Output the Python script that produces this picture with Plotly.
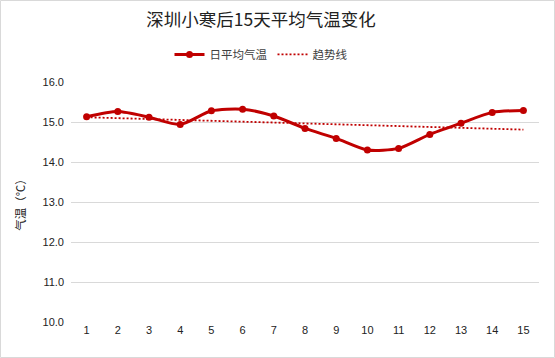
import numpy as np
import plotly.graph_objects as go

days = list(range(1, 16))
temps = [15.13, 15.26, 15.12, 14.94, 15.28, 15.32, 15.15, 14.84, 14.59, 14.30,
         14.34, 14.69, 14.97, 15.24, 15.29]
y_ticks = [10.0, 11.0, 12.0, 13.0, 14.0, 15.0, 16.0]
title_text = "深圳小寒后15天平均气温变化"
series_name = "日平均气温"
trend_name = "趋势线"
y_title = "气温（℃）"

coef = np.polyfit(days, temps, 1)
trend = list(np.polyval(coef, days))

RED = "#C00000"
CJK = "Noto Sans CJK SC"
CENTER_X = (261 - 71) / 468

fig = go.Figure()
fig.add_trace(go.Scatter(
    x=days, y=temps, name=series_name, mode="lines+markers",
    line=dict(color=RED, width=3, shape="spline", smoothing=0.7),
    marker=dict(color=RED, size=7),
))
fig.add_trace(go.Scatter(
    x=days, y=trend, name=trend_name, mode="lines",
    line=dict(color=RED, width=1.8, dash="2px,2px"),
))

fig.update_layout(
    width=555, height=358,
    margin=dict(l=71, r=16, t=82, b=36, autoexpand=False),
    paper_bgcolor="white", plot_bgcolor="white",
    title=dict(text=title_text, x=CENTER_X, xref="paper", xanchor="center",
               y=0.945, yanchor="middle",
               font=dict(family=CJK, size=17.5, color="#222222")),
    legend=dict(orientation="h", x=CENTER_X, xanchor="center", y=1.115, yanchor="middle",
                font=dict(family=CJK, size=11.5, color="#404040"),
                itemwidth=30, tracegroupgap=0),
    xaxis=dict(type="linear", range=[0.5, 15.5], tickvals=days,
               ticktext=[str(d) for d in days], showgrid=False, zeroline=False,
               showline=False, ticks="",
               tickfont=dict(family="Liberation Sans", size=11, color="#222222")),
    yaxis=dict(range=[10, 16], tickvals=y_ticks,
               ticktext=[f"{v:.1f}" for v in y_ticks],
               showgrid=True, gridcolor="#D9D9D9", gridwidth=1, zeroline=False,
               showline=False, ticks="", ticklen=0,
               title=dict(text=y_title, standoff=14,
                          font=dict(family=CJK, size=11.5, color="#222222")),
               tickfont=dict(family="Liberation Sans", size=11, color="#222222")),
    font=dict(family=CJK),
    showlegend=True,
)
fig.update_yaxes(ticklabelstandoff=6)

# chart outer border
fig.add_shape(type="rect", xref="paper", yref="paper",
              x0=(0.5 - 71) / 468, x1=(554.5 - 71) / 468,
              y0=(322 - 357.5) / 240, y1=(322 - 0.5) / 240,
              line=dict(color="#D9D9D9", width=1), fillcolor="rgba(0,0,0,0)", layer="below")

fig.write_html("out.html", config={"displayModeBar": False},
               post_script="document.body.style.margin='0';document.body.style.overflow='hidden';")
